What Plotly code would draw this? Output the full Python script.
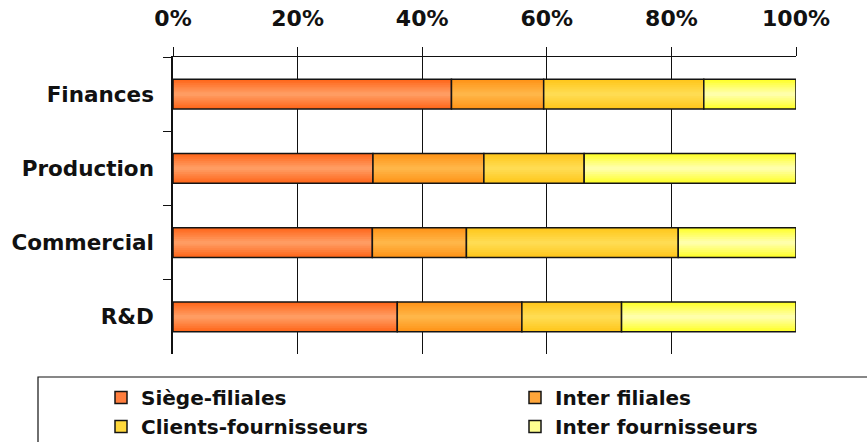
import numpy as np
import plotly.graph_objects as go

# Data: share of each exchange type per department (%)
categories = ["Finances", "Production", "Commercial", "R&D"]
series_names = ["Siège-filiales", "Inter filiales", "Clients-fournisseurs", "Inter fournisseurs"]
siege_filiales = [44.7, 32.1, 32.0, 36.0]
inter_filiales = [14.8, 17.8, 15.1, 20.0]
clients_fournisseurs = [25.7, 16.1, 34.0, 16.0]
inter_fournisseurs = [14.8, 34.0, 18.9, 28.0]
tick_values = [0, 20, 40, 60, 80, 100]
tick_labels = ["0%", "20%", "40%", "60%", "80%", "100%"]

values = np.array([siege_filiales, inter_filiales, clients_fournisseurs, inter_fournisseurs])
bases = np.vstack([np.zeros(len(categories)), np.cumsum(values, axis=0)[:-1]])

# Styling: (edge colour, centre colour, legend swatch colour)
palette = [
    ("#FF681C", "#FF9C62", "#FF7E3E"),
    ("#FF9418", "#FFB648", "#FFA63A"),
    ("#FFC71C", "#FFDC52", "#FFD83C"),
    ("#FFFF2C", "#FFFFAA", "#FFFF90"),
]
BAR_W = 0.4
N_LAYERS = 8
FONT = "DejaVu Sans"


def mix(c1, c2, t):
    a = [int(c1[i:i + 2], 16) for i in (1, 3, 5)]
    b = [int(c2[i:i + 2], 16) for i in (1, 3, 5)]
    return "#" + "".join(f"{round(x + (y - x) * t):02X}" for x, y in zip(a, b))


fig = go.Figure()

for s, name in enumerate(series_names):
    edge, centre, swatch = palette[s]
    # stepped vertical gradient: narrower, lighter bars stacked on top of each other
    for k in range(N_LAYERS):
        t = k / (N_LAYERS - 1)
        fig.add_trace(go.Bar(
            y=categories, x=values[s], base=bases[s], orientation="h",
            width=BAR_W * (1 - k / N_LAYERS),
            marker=dict(color=mix(edge, centre, t), line=dict(width=0)),
            showlegend=False, hoverinfo="skip",
        ))
    # outline
    fig.add_trace(go.Bar(
        y=categories, x=values[s], base=bases[s], orientation="h", width=BAR_W,
        marker=dict(color="rgba(0,0,0,0)", line=dict(color="#141414", width=1.5)),
        showlegend=False, name=name,
    ))
    # legend swatch
    fig.add_trace(go.Bar(
        y=[None], x=[None], orientation="h", name=name,
        marker=dict(color=swatch, line=dict(color="#141414", width=1.5)),
        legend="legend" if s % 2 == 0 else "legend2",
    ))

# legend frame
fig.add_shape(type="rect", xref="paper", yref="paper",
              x0=(38 - 173) / 623, x1=1.3, y0=(354 - 377) / 297, y1=-0.6,
              line=dict(color="#111111", width=1.2), fillcolor="rgba(0,0,0,0)")

legend_common = dict(
    orientation="v", traceorder="normal", bgcolor="rgba(0,0,0,0)",
    font=dict(family=FONT, size=20, color="#111111", weight="bold"),
    xanchor="left", yanchor="top", tracegroupgap=0, itemwidth=30,
)

fig.update_layout(
    width=867, height=442,
    margin=dict(l=173, r=71, t=57, b=88, autoexpand=False),
    paper_bgcolor="white", plot_bgcolor="white",
    barmode="overlay",
    legend=dict(x=(101 - 173) / 623, y=(354 - 378) / 297, **legend_common),
    legend2=dict(x=(515 - 173) / 623, y=(354 - 378) / 297, **legend_common),
    xaxis=dict(
        side="top", range=[0, 100], tickvals=tick_values, ticktext=tick_labels,
        ticks="outside", ticklen=9, tickwidth=1, tickcolor="#111111",
        showline=True, linecolor="#111111", linewidth=1,
        showgrid=True, gridcolor="#111111", gridwidth=1, zeroline=False,
        tickfont=dict(family=FONT, size=22, color="#111111", weight="bold"),
        ticklabelstandoff=12,
    ),
    yaxis=dict(
        type="category", categoryorder="array", categoryarray=categories,
        range=[3.5, -0.5], tickson="boundaries",
        ticks="outside", ticklen=8, tickwidth=1, tickcolor="#111111",
        showline=True, linecolor="#111111", linewidth=1.5,
        showgrid=False, zeroline=False,
        tickfont=dict(family=FONT, size=21.5, color="#111111", weight="bold"),
        ticklabelstandoff=13,
    ),
)

fig.write_html("out.html")
